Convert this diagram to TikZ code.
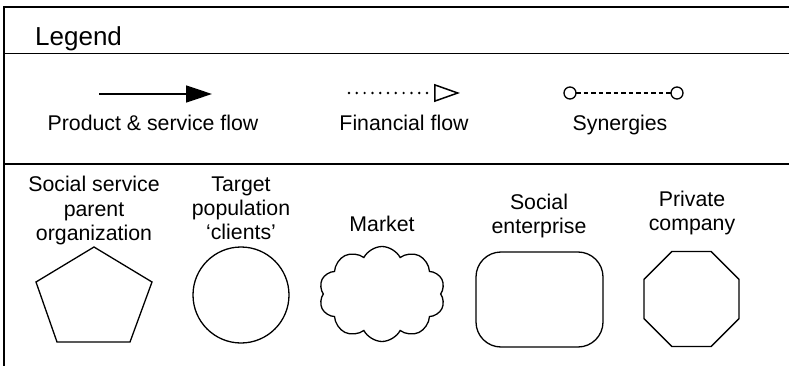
\documentclass[tikz,border=0pt]{standalone}
\usepackage{fontspec}
\setmainfont{Liberation Sans}
\usetikzlibrary{arrows.meta,shapes.geometric,shapes.symbols}
\begin{document}
\begin{tikzpicture}[x=1pt,y=-1pt,
  frame/.style={line width=1.5pt},
  shp/.style={draw,line width=1.3pt,inner sep=0pt,outer sep=0pt},
  lbl/.style={font=\fontsize{21.3}{24}\selectfont,align=center,inner sep=0pt,anchor=base},
]
\useasboundingbox (0,0) rectangle (789,366);
% frame
\coordinate (tl) at (4,7);
\coordinate (tr) at (789,7);
\coordinate (bl) at (4,366);
\coordinate (l1) at (4,53.5);
\coordinate (r1) at (789,53.5);
\coordinate (l2) at (4,164);
\coordinate (r2) at (789,164);
\draw[frame] (tr) -- (tl) -- (bl);
\draw[frame] (l1) -- (r1);
\draw[frame] (l2) -- (r2);
\node[font=\fontsize{26}{30}\selectfont,inner sep=0pt,anchor=base west] (legend) at (35,46) {Legend};
% legend items
\coordinate (p1) at (99,94);
\coordinate (p2) at (212,94);
\draw[line width=1.5pt,-{Triangle[length=26pt,width=17pt]}] (p1) -- (p2);
\node[lbl] (ptxt) at (153,131) {Product \& service flow};
\coordinate (f1) at (349,93);
\coordinate (f2) at (460,93);
\coordinate (f3) at (434,93);
\draw[line width=2.7pt,line cap=round,dash pattern=on 0pt off 7.8pt] (f1) -- (f3);
\draw[line width=1.5pt,-{Triangle[open,length=26pt,width=18pt]}] (f3) -- (f2);
\node[lbl] (ftxt) at (404,131) {Financial flow};
\node[circle,draw,line width=1.3pt,minimum size=12pt,inner sep=0pt,outer sep=0pt] (c1) at (570,93) {};
\node[circle,draw,line width=1.3pt,minimum size=12pt,inner sep=0pt,outer sep=0pt] (c2) at (677,93) {};
\draw[line width=2.6pt,dash pattern=on 4.5pt off 3pt] (c1) -- (c2);
\node[lbl] (stxt) at (620,131) {Synergies};
% shapes
\draw[line width=1.3pt,line join=miter] (94,247) -- (152,282) -- (130,342) -- (57,342) -- (36,282) -- cycle;
\node[lbl] (t1) at (94,240) {Social service\\parent\\organization};
\node[shp,circle,minimum size=96pt] (circ) at (241,295) {};
\node[lbl] (t2) at (241,239) {Target\\population\\`clients'};
\node[shp,cloud,cloud puffs=10,cloud puff arc=125,aspect=1.33,minimum width=126pt,minimum height=95pt] (cloud) at (382,294) {};
\node[lbl] (t3) at (382,231) {Market};
\node[shp,rectangle,rounded corners=25pt,minimum width=127pt,minimum height=95pt] (rr) at (539.5,299.5) {};
\node[lbl] (t4) at (539,233) {Social\\enterprise};
\node[shp,regular polygon,regular polygon sides=8,minimum size=102.8pt] (oct) at (691.5,299) {};
\node[lbl] (t5) at (692,230) {Private\\company};
\end{tikzpicture}
\end{document}
